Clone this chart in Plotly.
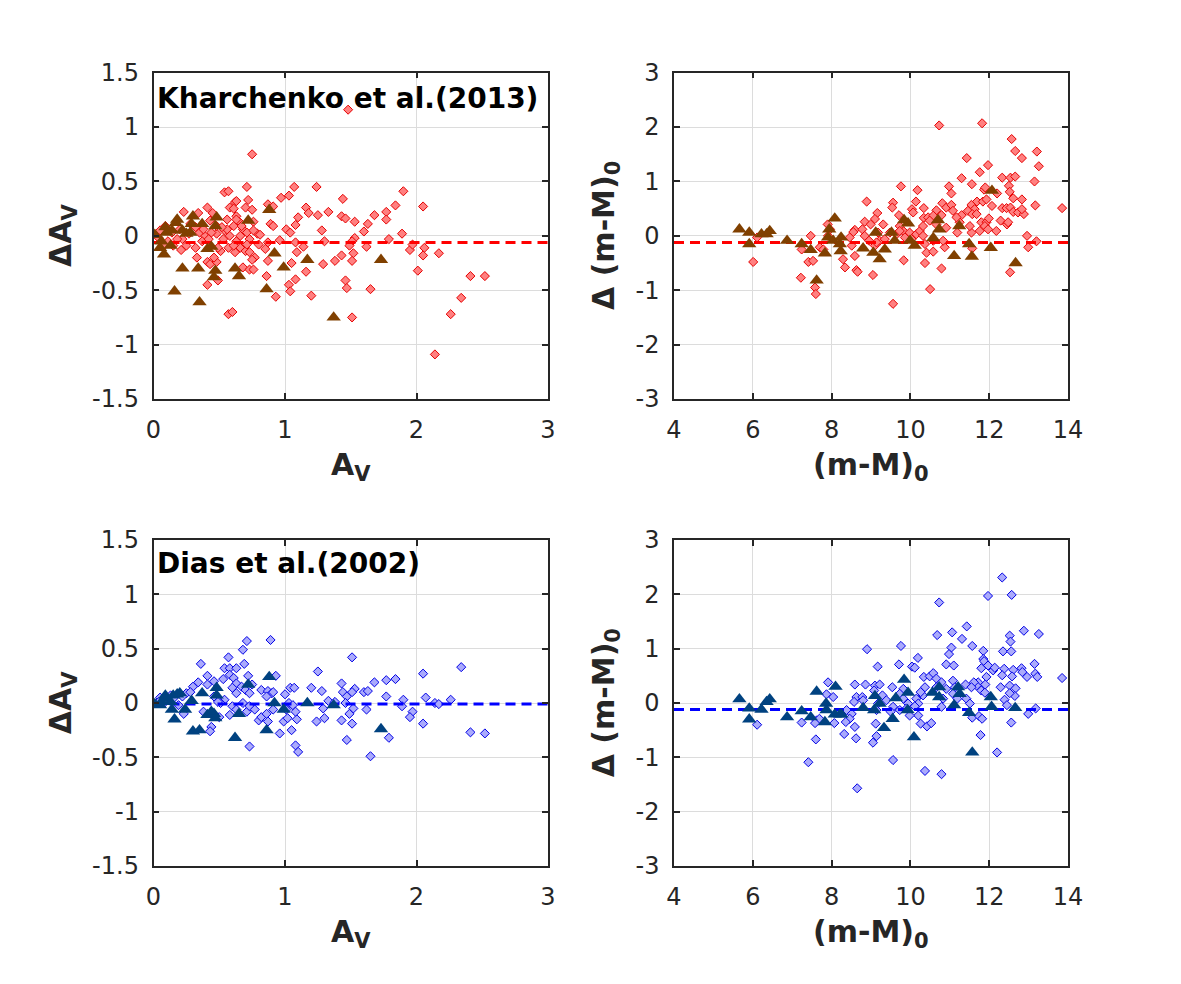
import plotly.graph_objects as go

# ---------------- data ----------------
# Kharchenko et al.(2013): A_V vs Delta A_V (diamonds)
k13_av_x = [1.48,0.75,0.23,0.54,0.57,0.71,0.72,0.62,0.63,0.58,
            0.61,0.70,0.75,0.41,0.45,0.34,0.43,0.63,0.66,0.76,
            0.68,0.61,0.54,0.48,0.39,0.35,0.28,0.20,0.14,0.09,
            0.05,0.04,0.22,0.21,0.32,0.33,0.41,0.43,0.48,0.46,
            0.51,0.49,0.57,0.62,0.66,0.70,0.73,0.77,0.75,0.68,
            0.73,0.76,0.49,0.41,0.57,0.60,0.79,0.81,0.80,0.85,
            0.87,0.87,0.91,0.89,0.91,0.96,0.87,0.86,0.93,0.97,
            1.03,1.07,1.01,1.04,1.08,1.10,1.08,1.09,1.14,1.05,
            1.03,1.04,1.08,1.16,1.18,1.16,1.20,1.24,1.25,1.28,
            1.30,1.29,1.33,1.38,1.43,1.44,1.43,1.46,1.53,1.53,
            1.51,1.49,1.52,1.51,1.46,1.47,1.51,1.60,1.62,1.63,
            1.65,1.68,1.77,1.77,1.79,1.84,1.89,1.90,1.95,1.97,
            2.01,2.05,2.06,2.05,2.17,2.14,2.26,2.34,2.41,2.52,
            0.73,0.71,0.66,0.63,0.58,0.53,0.61,0.71,0.67,0.76,
            0.56,0.44,0.38,0.32,0.27,0.18,0.11,0.15,0.08,0.25,
            0.37,0.42,0.48,0.52,0.56,0.63]
k13_av_dy = [1.16,0.75,0.22,0.40,0.41,0.45,0.33,0.31,0.32,0.26,
             0.25,0.26,0.24,0.26,0.21,0.21,0.14,0.18,0.12,0.13,
             0.06,0.09,0.05,0.02,0.00,0.03,0.11,0.06,0.03,0.09,
             0.05,-0.02,-0.03,-0.13,-0.11,-0.20,-0.24,-0.26,-0.24,-0.20,
             -0.14,-0.11,-0.11,-0.15,-0.11,-0.14,-0.15,-0.20,-0.22,-0.29,
             -0.31,-0.31,-0.41,-0.45,-0.72,-0.70,0.02,0.01,-0.08,-0.12,
             -0.06,0.29,0.27,0.11,0.09,-0.04,-0.23,-0.37,-0.56,0.35,
             0.37,0.45,0.06,0.03,0.10,0.17,-0.06,-0.15,-0.10,-0.25,
             -0.45,-0.51,-0.40,0.26,0.21,-0.33,-0.55,0.45,0.19,0.05,
             -0.05,-0.26,0.22,-0.23,-0.18,0.34,0.18,0.16,0.13,-0.02,
             -0.05,-0.09,-0.16,-0.23,-0.41,-0.48,-0.75,0.04,-0.10,0.11,
             -0.49,0.19,0.22,0.15,-0.03,0.28,0.02,0.41,-0.13,-0.08,
             -0.32,0.27,-0.11,-0.18,-0.16,-1.09,-0.72,-0.57,-0.37,-0.37,
             -0.03,-0.08,0.00,-0.05,0.00,-0.03,-0.09,0.03,0.09,0.05,
             0.06,0.03,0.06,0.08,0.02,-0.03,-0.05,-0.09,-0.09,-0.09,
             -0.05,-0.03,0.09,0.08,0.15,0.15]
# Kharchenko: triangles
k13_tri_av_x = [0.01,0.09,0.10,0.06,0.08,0.05,0.17,0.18,0.14,0.13,
                0.22,0.25,0.28,0.29,0.30,0.37,0.22,0.16,0.34,0.35,
                0.41,0.44,0.48,0.47,0.47,0.46,0.62,0.65,0.72,0.88,
                0.86,0.92,0.99,1.17,1.37,1.73]
k13_tri_av_dy = [0.01,0.08,0.03,-0.05,-0.17,-0.11,0.12,0.15,0.05,-0.09,
                 0.05,0.02,0.03,0.11,0.18,0.11,-0.30,-0.51,-0.30,-0.61,
                 -0.12,-0.10,0.17,0.09,-0.32,-0.38,-0.30,-0.37,0.14,0.24,
                 -0.49,-0.16,-0.29,-0.22,-0.75,-0.22]

# Kharchenko: (m-M)0 vs Delta (m-M)0
k13_dm_x = [10.73,11.82,12.57,12.66,12.83,13.21,13.26,11.43,11.97,11.76,
            11.30,11.56,12.33,12.54,12.66,12.50,12.52,13.15,10.98,11.04,
            9.76,10.18,11.87,11.90,12.20,12.61,12.83,8.89,9.56,9.54,
            10.14,10.34,10.81,10.91,11.04,11.08,11.55,11.63,11.69,11.84,
            11.93,12.07,12.33,12.44,12.54,12.61,12.73,12.88,12.83,13.17,
            13.85,9.16,9.71,10.04,10.07,10.34,10.45,10.66,10.58,10.79,
            11.30,11.46,11.57,11.68,11.80,11.93,11.99,12.29,12.45,12.48,
            12.96,13.20,12.99,8.84,8.99,9.10,9.31,8.59,8.55,8.78,
            8.84,8.95,8.46,8.51,8.59,8.29,8.34,8.63,8.66,9.05,
            7.90,7.96,7.91,7.70,7.79,7.47,7.24,7.22,7.41,7.53,
            7.58,7.60,6.01,6.11,9.18,9.22,9.10,9.14,9.35,9.48,
            9.65,9.82,9.86,9.98,10.03,10.15,10.24,10.32,10.37,10.41,
            10.58,10.58,9.83,10.37,10.79,10.87,10.83,9.56,10.50,12.53,
            11.57,11.55,11.51,11.76,11.89,11.97,12.18,9.73,9.73,10.91,
            11.19,11.25,11.17,10.32,10.49,10.66]
k13_dm_dy = [2.03,2.07,1.78,1.56,1.43,1.55,1.28,1.43,1.30,1.17,
             1.06,0.95,1.07,1.07,1.09,0.92,0.81,1.00,0.91,0.78,
             0.91,0.84,0.85,0.89,0.78,0.69,0.67,0.63,0.61,0.52,
             0.63,0.51,0.60,0.52,0.57,0.46,0.57,0.49,0.63,0.63,
             0.67,0.55,0.51,0.51,0.52,0.44,0.43,0.40,0.49,0.56,
             0.51,0.42,0.38,0.49,0.43,0.33,0.34,0.47,0.37,0.38,
             0.38,0.46,0.40,0.40,0.25,0.25,0.32,0.28,0.21,0.25,
             0.00,-0.10,-0.21,0.26,0.21,0.31,0.21,0.11,0.07,0.12,
             0.00,-0.09,-0.03,-0.18,-0.37,-0.43,-0.58,-0.63,-0.66,-0.72,
             0.21,0.12,0.00,-0.21,-0.25,0.00,-0.25,-0.77,-0.48,-0.46,
             -0.95,-1.07,-0.48,-0.03,0.06,-0.09,-0.18,-0.12,-0.06,0.06,
             0.03,0.09,-0.03,0.06,-0.06,0.03,0.09,0.00,-0.15,-0.31,
             -0.29,-0.09,-0.45,-0.50,-0.60,-0.21,-0.09,-1.25,-0.98,-0.67,
             -0.23,0.06,0.18,0.09,0.18,0.12,0.09,0.18,0.09,0.15,
             0.06,0.25,0.34,0.18,0.28,0.21]
k13_tri_dm_x = [5.66,5.91,5.91,6.22,6.35,6.43,6.87,7.24,7.47,7.62,
                7.83,7.94,8.08,7.91,8.04,8.24,8.23,8.21,8.80,9.06,
                9.12,9.22,9.35,9.52,9.60,9.84,9.94,9.99,10.11,10.58,
                10.70,10.73,11.11,11.24,11.49,11.56,12.04,12.07,12.67]
k13_tri_dm_dy = [0.12,0.06,-0.15,0.03,0.03,0.09,-0.09,-0.15,-0.26,-0.82,
                 -0.32,0.12,0.32,-0.03,-0.09,-0.03,-0.28,-0.15,-0.23,-0.31,
                 0.06,-0.43,-0.25,0.06,-0.09,0.29,0.23,-0.09,-0.18,-0.04,
                 0.29,0.12,-0.37,0.18,-0.15,-0.38,-0.22,0.83,-0.50]

# Dias et al.(2002): A_V vs Delta A_V
d02_av_x = [0.71,0.89,0.68,0.57,0.36,0.69,0.54,0.58,0.63,0.58,
            0.61,0.41,0.41,0.72,0.93,0.53,0.34,0.30,0.46,0.63,
            0.67,0.75,0.82,0.87,0.90,0.91,0.60,0.63,0.70,0.73,
            0.54,0.51,0.60,0.58,0.63,0.68,0.71,0.73,0.77,0.80,
            0.82,0.86,0.87,0.91,0.86,0.25,0.28,0.22,0.23,0.19,
            0.46,0.49,0.50,0.44,0.43,0.38,0.73,0.96,1.00,1.04,
            1.07,1.03,1.06,1.01,0.99,1.02,1.09,1.08,1.05,1.08,
            1.10,1.20,1.25,1.28,1.29,1.30,1.24,1.33,1.38,1.43,
            1.44,1.47,1.46,1.43,1.49,1.51,1.52,1.53,1.51,1.51,
            1.47,1.60,1.63,1.62,1.68,1.65,1.77,1.84,1.77,1.79,
            1.90,1.89,1.97,1.95,2.05,2.07,2.05,2.14,2.17,2.26,
            2.34,2.41,2.52,0.05,0.10,0.13,0.08,0.15,0.04]
d02_av_dy = [0.57,0.58,0.49,0.42,0.36,0.36,0.32,0.32,0.32,0.26,
             0.23,0.25,0.17,0.25,0.25,0.22,0.19,0.15,0.20,0.18,
             0.15,0.17,0.12,0.11,0.09,0.10,0.14,0.09,0.12,0.09,
             0.03,0.00,-0.03,-0.11,-0.06,0.00,-0.08,-0.03,-0.06,-0.16,
             -0.13,-0.10,-0.17,-0.06,0.06,0.09,0.10,0.06,-0.10,-0.02,
             0.06,0.01,-0.13,-0.22,-0.26,-0.08,-0.40,-0.28,0.08,0.14,
             0.14,0.00,-0.02,-0.06,-0.17,-0.14,-0.15,-0.08,-0.25,-0.39,
             -0.45,0.14,0.29,0.11,-0.05,-0.14,-0.17,0.02,0.01,0.18,
             0.10,0.06,0.00,-0.16,-0.10,-0.19,-0.05,0.13,0.10,0.42,
             -0.34,0.10,0.11,-0.06,0.19,-0.49,0.21,0.22,0.06,-0.32,
             0.03,-0.03,-0.08,-0.13,0.27,0.05,-0.19,0.00,-0.01,0.03,
             0.33,-0.27,-0.28,0.05,0.03,0.07,0.00,0.04,0.01]
d02_tri_av_x = [0.01,0.09,0.10,0.06,0.05,0.13,0.15,0.18,0.20,0.14,
                0.16,0.24,0.29,0.30,0.35,0.37,0.41,0.46,0.47,0.44,
                0.48,0.48,0.62,0.65,0.72,0.88,0.86,0.92,0.99,1.17,
                1.37,1.73]
d02_tri_av_dy = [-0.01,0.07,0.04,0.01,-0.02,0.01,0.07,0.08,0.09,-0.06,
                 -0.15,-0.06,0.02,-0.26,-0.25,0.09,-0.11,-0.10,-0.14,-0.08,
                 0.14,0.07,-0.32,-0.10,0.17,0.24,-0.25,0.00,-0.06,0.00,
                 -0.02,-0.24]

# Dias: (m-M)0 vs Delta (m-M)0
d02_dm_x = [12.33,11.97,12.57,10.73,11.43,12.88,13.26,10.68,11.06,11.31,
            12.52,12.54,11.57,8.90,9.76,11.04,10.98,11.85,12.35,12.56,
            10.19,11.85,11.87,9.17,9.71,10.04,10.11,10.91,11.10,11.97,
            12.10,12.14,12.38,12.61,12.82,12.84,13.15,13.17,13.22,12.96,
            11.80,11.93,11.72,11.90,11.80,11.89,11.68,11.61,12.33,12.58,
            12.29,12.52,12.67,12.65,12.39,12.52,12.45,12.56,12.99,13.18,
            13.85,11.78,12.20,10.34,10.49,10.58,10.66,10.66,10.79,10.91,
            11.08,11.13,11.08,11.19,11.40,11.55,11.42,11.51,11.57,11.74,
            11.82,10.37,10.32,10.15,10.26,10.20,10.11,10.20,10.26,10.42,
            10.53,10.79,10.83,9.82,9.73,9.56,9.54,9.73,9.98,9.82,
            9.94,9.90,8.86,9.10,9.22,9.08,9.29,8.59,8.63,8.78,
            8.57,8.80,9.18,9.39,9.50,9.14,7.91,7.87,8.04,8.38,
            8.51,8.46,8.59,8.36,8.07,7.62,7.69,7.58,9.05,9.14,
            9.12,7.24,7.60,7.41,8.32,8.62,8.65,9.56,10.37,10.79,
            6.11]
d02_dm_dy = [2.31,1.97,1.99,1.85,1.41,1.33,1.27,1.25,1.30,1.18,
             1.24,1.13,1.05,0.99,1.05,1.02,0.90,0.96,0.95,0.95,
             0.83,0.81,0.77,0.67,0.71,0.67,0.65,0.71,0.69,0.69,
             0.60,0.65,0.63,0.61,0.64,0.57,0.72,0.54,0.48,0.48,
             0.64,0.48,0.38,0.34,0.23,0.19,0.32,0.38,0.51,0.49,
             0.29,0.32,0.27,0.13,0.06,0.18,-0.04,-0.36,-0.20,-0.10,
             0.46,-0.59,-0.91,0.48,0.49,0.55,0.45,0.29,0.38,0.26,
             0.41,0.29,0.17,0.08,0.34,0.29,0.08,-0.01,-0.27,-0.24,
             -0.29,0.29,0.14,0.08,0.20,-0.01,-0.06,-0.23,-0.38,-0.43,
             -0.37,-0.07,0.08,0.26,0.17,-0.07,0.29,-0.13,-0.23,0.08,
             -0.01,-0.10,0.34,0.32,0.34,0.23,0.14,0.34,0.11,0.11,
             0.02,0.05,-0.01,0.05,-0.16,-0.13,0.38,0.16,0.11,-0.13,
             -0.20,-0.29,-0.44,-0.35,-0.37,-0.32,-0.29,-0.37,-0.73,-0.61,
             -0.38,-0.36,-0.67,-1.09,-0.57,-0.65,-1.57,-1.05,-1.25,-1.31,
             -0.40]
d02_tri_dm_x = [5.66,5.91,5.91,6.22,6.35,6.43,6.87,7.24,7.47,7.62,
                7.83,7.86,7.87,8.10,8.08,8.21,8.25,8.80,9.10,9.08,
                9.33,9.22,9.55,9.63,9.84,9.94,9.93,10.09,10.56,10.73,
                10.73,11.11,11.21,11.25,11.49,11.57,12.04,12.06,12.66]
d02_tri_dm_dy = [0.07,-0.10,-0.30,-0.12,0.02,0.07,-0.26,-0.15,-0.26,0.21,
                 -0.35,-0.01,-0.13,0.30,-0.21,-0.21,-0.21,-0.09,0.13,-0.13,
                 -0.46,-0.01,-0.29,0.09,0.43,0.19,-0.13,-0.63,0.19,0.29,
                 0.11,-0.04,0.29,0.17,-0.18,-0.91,0.11,-0.07,-0.09]

# mean offsets (dashed lines)
k13_av_mean = -0.06
k13_dm_mean = -0.12
d02_av_mean = -0.01
d02_dm_mean = -0.12

# axis ranges / ticks
av_range = [0, 3]
dm_range = [4, 14]
dav_range = [-1.5, 1.5]
ddm_range = [-3, 3]
av_ticks = [0, 1, 2, 3]
av_ticktext = ["0", "1", "2", "3"]
dm_ticks = [4, 6, 8, 10, 12, 14]
dm_ticktext = ["4", "6", "8", "10", "12", "14"]
dav_ticks = [-1.5, -1, -0.5, 0, 0.5, 1, 1.5]
dav_ticktext = ["-1.5", "-1", "-0.5", "0", "0.5", "1", "1.5"]
ddm_ticks = [-3, -2, -1, 0, 1, 2, 3]
ddm_ticktext = ["-3", "-2", "-1", "0", "1", "2", "3"]

# ---------------- styling ----------------
W, H = 1181, 984
FONT = "DejaVu Sans"
TXT = "#262626"

RED_FILL = "rgb(255,128,128)"
RED_EDGE = "rgb(230,0,0)"
BROWN = "rgb(128,64,0)"
BLUE_FILL = "rgb(170,170,252)"
BLUE_EDGE = "rgb(0,0,230)"
NAVY = "rgb(0,66,128)"

fig = go.Figure()


def add_panel(xa, ya, dx, dy, tx, ty, mean, xr, fill, edge, tri, linecol):
    fig.add_trace(go.Scatter(
        x=dx, y=dy, mode="markers", xaxis=xa, yaxis=ya, showlegend=False,
        marker=dict(symbol="diamond", size=7, color=fill,
                    line=dict(color=edge, width=1))))
    fig.add_trace(go.Scatter(
        x=xr, y=[mean, mean], mode="lines", xaxis=xa, yaxis=ya, showlegend=False,
        line=dict(color=linecol, width=3, dash="10px,6px")))
    fig.add_trace(go.Scatter(
        x=tx, y=ty, mode="markers", xaxis=xa, yaxis=ya, showlegend=False,
        marker=dict(symbol="triangle-up", size=12.5, color=tri,
                    line=dict(color=tri, width=0))))


add_panel("x", "y", k13_av_x, k13_av_dy, k13_tri_av_x, k13_tri_av_dy,
          k13_av_mean, av_range, RED_FILL, RED_EDGE, BROWN, "rgb(255,0,0)")
add_panel("x2", "y2", k13_dm_x, k13_dm_dy, k13_tri_dm_x, k13_tri_dm_dy,
          k13_dm_mean, dm_range, RED_FILL, RED_EDGE, BROWN, "rgb(255,0,0)")
add_panel("x3", "y3", d02_av_x, d02_av_dy, d02_tri_av_x, d02_tri_av_dy,
          d02_av_mean, av_range, BLUE_FILL, BLUE_EDGE, NAVY, "rgb(0,0,255)")
add_panel("x4", "y4", d02_dm_x, d02_dm_dy, d02_tri_dm_x, d02_tri_dm_dy,
          d02_dm_mean, dm_range, BLUE_FILL, BLUE_EDGE, NAVY, "rgb(0,0,255)")

# panel domains (paper fractions)
xL = [153.5 / W, 548 / W]
xR = [674 / W, 1068 / W]
yT = [1 - 399 / H, 1 - 72.7 / H]
yB = [1 - 866 / H, 1 - 540 / H]

common = dict(showline=True, linecolor=TXT, linewidth=1.5, mirror="ticks",
              ticks="inside", ticklen=6, tickwidth=1.5, tickcolor=TXT,
              showgrid=True, gridcolor="#DCDCDC", gridwidth=1, zeroline=False,
              automargin=False,
              tickfont=dict(family=FONT, size=24, color=TXT))


def xax(dom, anchor, rng, tv, tt):
    d = dict(common)
    d.update(domain=dom, anchor=anchor, range=rng, tickvals=tv, ticktext=tt,
             ticklabelstandoff=8)
    return d


def yax(dom, anchor, rng, tv, tt):
    d = dict(common)
    d.update(domain=dom, anchor=anchor, range=rng, tickvals=tv, ticktext=tt,
             ticklabelstandoff=8)
    return d


fig.update_layout(
    template="none",
    width=W, height=H,
    margin=dict(l=0, r=0, t=0, b=0, pad=0, autoexpand=False),
    paper_bgcolor="white", plot_bgcolor="white",
    xaxis=xax(xL, "y", av_range, av_ticks, av_ticktext),
    yaxis=yax(yT, "x", dav_range, dav_ticks, dav_ticktext),
    xaxis2=xax(xR, "y2", dm_range, dm_ticks, dm_ticktext),
    yaxis2=yax(yT, "x2", ddm_range, ddm_ticks, ddm_ticktext),
    xaxis3=xax(xL, "y3", av_range, av_ticks, av_ticktext),
    yaxis3=yax(yB, "x3", dav_range, dav_ticks, dav_ticktext),
    xaxis4=xax(xR, "y4", dm_range, dm_ticks, dm_ticktext),
    yaxis4=yax(yB, "x4", ddm_range, ddm_ticks, ddm_ticktext),
)

lab_font = dict(family=FONT, size=30, color=TXT, weight="bold")
ann = []


def label(text, px, py, angle=0, xanchor="center", yanchor="middle", font=lab_font):
    ann.append(dict(text=text, x=px / W, y=1 - py / H, xref="paper", yref="paper",
                    showarrow=False, textangle=angle, xanchor=xanchor,
                    yanchor=yanchor, font=font, borderpad=0))


dy_panel = 467.3
for off in (0, dy_panel):
    label("ΔA<sub>V</sub>", 62, 236 + off, angle=-90)
    label("Δ (m-M)<sub>0</sub>", 605, 236 + off, angle=-90)
    label("A<sub>V</sub>", 351, 466 + off)
    label("(m-M)<sub>0</sub>", 871, 466 + off)

title_font = dict(family=FONT, size=28, color="black", weight="bold")
label("Kharchenko et al.(2013)", 156, 98, xanchor="left", font=title_font)
label("Dias et al.(2002)", 156, 563, xanchor="left", font=title_font)

fig.update_layout(annotations=ann)
fig.write_html("out.html")
